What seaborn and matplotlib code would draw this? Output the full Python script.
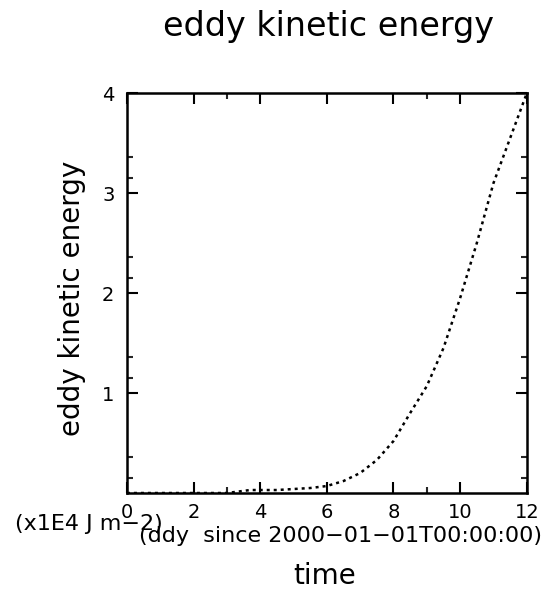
import matplotlib
matplotlib.use("Agg")
import matplotlib.pyplot as plt
import seaborn as sns
import pandas as pd
from matplotlib.ticker import FixedLocator

time = [0.0, 1.0, 2.0, 3.0, 3.7, 4.0, 4.5, 5.0, 5.5, 6.0, 6.5, 7.0, 7.5, 8.0, 8.5, 9.0, 9.5, 10.0, 10.5, 11.0, 11.5, 12.0]
eke = [0.0, 0.0, 0.0, 0.0, 0.03, 0.03, 0.03, 0.04, 0.05, 0.07, 0.12, 0.2, 0.33, 0.52, 0.8, 1.07, 1.45, 1.95, 2.5, 3.1, 3.55, 4.0]
xticks = [0, 2, 4, 6, 8, 10, 12]
xminor = [3, 9]
yticks = [1, 2, 3, 4]
yminor = [0.15, 0.36, 1.15, 1.36, 2.15, 2.36, 3.15, 3.36]

sns.set_theme(style="white")
plt.rcParams['font.family'] = ['DejaVu Sans']
plt.rcParams['text.color'] = 'black'

df = pd.DataFrame({"time": time, "eke": eke})

fig = plt.figure(figsize=(5.47, 5.94), dpi=100)
ax = fig.add_axes([0.232, 0.170, 0.731, 0.673])
sns.lineplot(data=df, x="time", y="eke", ax=ax, color="black", linewidth=1.8,
             dashes=False)
ax.lines[0].set_linestyle((0, (1.2, 1.6)))

ax.set_xlim(0, 12)
ax.set_ylim(0, 4)
ax.set_xticks(xticks)
ax.set_xticklabels([str(t) for t in xticks], fontsize=14)
ax.xaxis.set_minor_locator(FixedLocator(xminor))
ax.set_yticks(yticks)
ax.set_yticklabels([str(t) for t in yticks], fontsize=14)
ax.yaxis.set_minor_locator(FixedLocator(yminor))
ax.tick_params(which="major", direction="in", length=8, width=1.5, top=True, right=True,
               bottom=True, left=True, colors="black")
ax.tick_params(axis="x", which="major", pad=7)
ax.tick_params(axis="y", which="major", pad=9)
ax.tick_params(which="minor", direction="in", length=4, width=1.5, top=True, right=True,
               bottom=True, left=True)
for s in ax.spines.values():
    s.set_linewidth(1.8)
    s.set_color("black")

ax.set_xlabel("")
ax.set_ylabel("")

fig.text(0.600, 0.939, "eddy kinetic energy", fontsize=24, ha="center", va="baseline", color="black")
fig.text(0.1316, 0.498, "eddy kinetic energy", fontsize=20, rotation=90, ha="center", va="center", color="black")
fig.text(0.027, 0.108, "(x1E4 J m\u22122)", fontsize=16, ha="left", va="baseline", color="black")
fig.text(0.990, 0.0875, "(ddy  since 2000\u221201\u221201T00:00:00)", fontsize=16, ha="right", va="baseline", color="black")
fig.text(0.594, 0.017, "time", fontsize=20, ha="center", va="baseline", color="black")

fig.savefig("out.png", dpi=100)
